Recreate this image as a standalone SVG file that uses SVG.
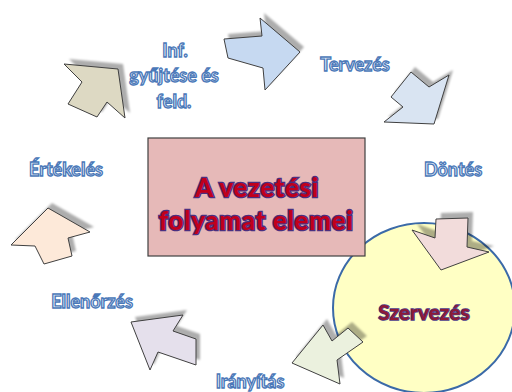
<svg xmlns="http://www.w3.org/2000/svg" width="512" height="392" viewBox="0 0 512 392">
<style>
.sh{fill:#000;fill-opacity:.32;stroke:none}
.ar{stroke:#404040;stroke-width:1;stroke-linejoin:miter}
.lbl{font-family:Lato,"Liberation Sans",sans-serif;font-weight:bold;font-size:18px;fill:#e9eff8;stroke:#4a78b8;stroke-width:1.3;text-anchor:middle}
.title{font-family:Lato,"Liberation Sans",sans-serif;font-weight:900;font-size:26px;letter-spacing:0.6px;fill:#c0001c;stroke:#4a2f80;stroke-width:2.6;paint-order:stroke;text-anchor:middle}
.szv{font-family:Lato,"Liberation Sans",sans-serif;font-weight:bold;font-size:21px;fill:#8e1a36;stroke:#4a3a8a;stroke-width:1.6;paint-order:stroke;text-anchor:middle}
</style>
<defs>
<filter id="blur" x="-20%" y="-20%" width="140%" height="140%"><feGaussianBlur stdDeviation="0.8"/></filter>
</defs>
<rect width="512" height="392" fill="#ffffff"/>

<g id="node-szervezes">
<ellipse cx="424" cy="308" rx="91" ry="85" fill="#ffffc4" stroke="#3b6aa8" stroke-width="2"/>
<text class="szv" x="424" y="320">Szervezés</text>
</g>

<g id="node-center">
<rect x="148" y="138" width="217" height="118" fill="#e6b9b8" stroke="#404040" stroke-width="1.2"/>
<text class="title" x="257" y="197">A vezetési</text>
<text class="title" x="256" y="230">folyamat elemei</text>
</g>

<g id="connectors">
<g id="arrow-1">
<polygon class="sh" filter="url(#blur)" transform="translate(4,-5)" points="224,39 262,36 260,18 300,52 265,90 263,68 228,58"/>
<polygon class="ar" fill="#c6d9f1" points="224,39 262,36 260,18 300,52 265,90 263,68 228,58"/>
</g>
<g id="arrow-2">
<polygon class="sh" filter="url(#blur)" transform="translate(4,-5)" points="411,72 429,87 449,75 434,124 384,122 403,107 391,97"/>
<polygon class="ar" fill="#d9e4f2" points="411,72 429,87 449,75 434,124 384,122 403,107 391,97"/>
</g>
<g id="arrow-3">
<polygon class="sh" filter="url(#blur)" transform="translate(5,-6)" points="436,219 468,218 467,247 489,252 441,270 412,230 435,238"/>
<polygon class="ar" fill="#f2dcdb" points="436,219 468,218 467,247 489,252 441,270 412,230 435,238"/>
</g>
<g id="arrow-4">
<polygon class="sh" filter="url(#blur)" transform="translate(4,-6)" points="323,325 332,341 348,328 363,342 337,360 340,384 292,363"/>
<polygon class="ar" fill="#ebf1de" points="323,325 332,341 348,328 363,342 337,360 340,384 292,363"/>
</g>
<g id="arrow-5">
<polygon class="sh" filter="url(#blur)" transform="translate(4,-5)" points="131,322 183,315 173,331 196,339 196,365 158,352 150,370"/>
<polygon class="ar" fill="#e5e0ec" points="131,322 183,315 173,331 196,339 196,365 158,352 150,370"/>
</g>
<g id="arrow-6">
<polygon class="sh" filter="url(#blur)" transform="translate(4,-5)" points="48,208 90,232 68,238 72,256 44,264 35,246 11,245"/>
<polygon class="ar" fill="#fde9d9" points="48,208 90,232 68,238 72,256 44,264 35,246 11,245"/>
</g>
<g id="arrow-7">
<polygon class="sh" filter="url(#blur)" transform="translate(5,-5)" points="64,64 118,69 125,118 107,102 97,117 68,104 82,82"/>
<polygon class="ar" fill="#ddd9c3" points="64,64 118,69 125,118 107,102 97,117 68,104 82,82"/>
</g>
</g>

<g id="node-inf">
<text class="lbl" x="175" y="57">Inf.</text>
<text class="lbl" x="174" y="82">gyűjtése és</text>
<text class="lbl" x="174" y="108">feld.</text>
</g>
<g id="node-tervezes"><text class="lbl" x="355" y="71">Tervezés</text></g>
<g id="node-dontes"><text class="lbl" x="453" y="176">Döntés</text></g>
<g id="node-ertekeles"><text class="lbl" x="66" y="176">Értékelés</text></g>
<g id="node-ellenorzes"><text class="lbl" x="92" y="308">Ellenőrzés</text></g>
<g id="node-iranyitas"><text class="lbl" x="250" y="388">Irányítás</text></g>
</svg>
